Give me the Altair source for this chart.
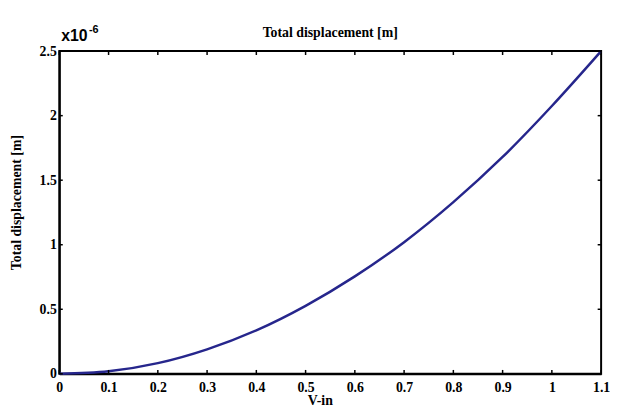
import altair as alt
import pandas as pd

v_in = [0.0, 0.1, 0.2, 0.3, 0.4, 0.5, 0.6, 0.7, 0.8, 0.9, 1.0, 1.1]
disp = [0.0, 0.02, 0.083, 0.19, 0.337, 0.527, 0.755, 1.02, 1.33, 1.68, 2.075, 2.5]
x_ticks = [0, 0.1, 0.2, 0.3, 0.4, 0.5, 0.6, 0.7, 0.8, 0.9, 1, 1.1]
y_ticks = [0, 0.5, 1, 1.5, 2, 2.5]
title_text = "Total displacement [m]"
y_title = "Total displacement [m]"
x_title = "V-in"
exp_base = "x10"
exp_sup = "-6"

W, H = 549, 327
SERIF = "Liberation Serif"
SANS = "Liberation Sans"

df = pd.DataFrame({"v": v_in, "d": disp})
xt = pd.DataFrame({"t": x_ticks})
yt = pd.DataFrame({"t": y_ticks})

xs = alt.Scale(domain=[0, 1.1], nice=False, zero=False)
ys = alt.Scale(domain=[0, 2.5], nice=False, zero=False)

line = alt.Chart(df).mark_line(color="#26268c", strokeWidth=2.5, interpolate="monotone").encode(
    x=alt.X("v:Q", scale=xs, axis=alt.Axis(
        values=x_ticks, format=".1~f", title=x_title, tickSize=0, labelPadding=7,
        labelFont=SERIF, labelFontSize=14, labelFontWeight="bold", labelColor="black",
        titleFont=SERIF, titleFontSize=14, titleFontWeight="bold", titleColor="black",
        titleX=264, titleY=31, titleBaseline="alphabetic",
        domainColor="black", domainWidth=2, grid=False, labelFlush=False)),
    y=alt.Y("d:Q", scale=ys, axis=alt.Axis(
        values=y_ticks, format=".1~f", title=y_title, tickSize=0, labelPadding=3,
        labelFont=SERIF, labelFontSize=14, labelFontWeight="bold", labelColor="black",
        titleFont=SERIF, titleFontSize=14, titleFontWeight="bold", titleColor="black",
        titleX=-43, titleY=153, titleBaseline="middle",
        domainColor="black", domainWidth=2, grid=False, labelFlush=False)),
)

tick_style = dict(color="black", strokeWidth=1.5)
bottom = alt.Chart(xt).mark_rule(**tick_style).encode(x=alt.X("t:Q", scale=xs), y=alt.datum(0.0), y2=alt.datum(0.03))
top = alt.Chart(xt).mark_rule(**tick_style).encode(x=alt.X("t:Q", scale=xs), y=alt.datum(2.5), y2=alt.datum(2.47))
left = alt.Chart(yt).mark_rule(**tick_style).encode(y=alt.Y("t:Q", scale=ys), x=alt.datum(0.0), x2=alt.datum(0.007))
right = alt.Chart(yt).mark_rule(**tick_style).encode(y=alt.Y("t:Q", scale=ys), x=alt.datum(1.1), x2=alt.datum(1.093))

base_txt = alt.Chart(pd.DataFrame({"s": [exp_base]})).mark_text(
    align="left", baseline="alphabetic", font=SANS, fontSize=16, fontWeight="bold",
    color="black", dx=2, dy=-10).encode(x=alt.datum(0.0), y=alt.datum(2.5), text="s:N")
sup_txt = alt.Chart(pd.DataFrame({"s": [exp_sup]})).mark_text(
    align="left", baseline="alphabetic", font=SANS, fontSize=11, fontWeight="bold",
    color="black", dx=30, dy=-18).encode(x=alt.datum(0.0), y=alt.datum(2.5), text="s:N")
title_txt = alt.Chart(pd.DataFrame({"s": [title_text]})).mark_text(
    align="center", baseline="alphabetic", font=SERIF, fontSize=14, fontWeight="bold",
    color="black", dy=-14).encode(x=alt.datum(0.55), y=alt.datum(2.5), text="s:N")

chart = alt.layer(line, bottom, top, left, right, base_txt, sup_txt, title_txt).properties(
    width=W, height=H,
    autosize=alt.AutoSizeParams(type="none"),
    padding={"left": 52, "top": 41, "right": 9, "bottom": 36},
    background="white",
).configure_view(stroke="black", strokeWidth=2)

chart.save("out.html", embed_options={"renderer": "svg", "actions": False})
